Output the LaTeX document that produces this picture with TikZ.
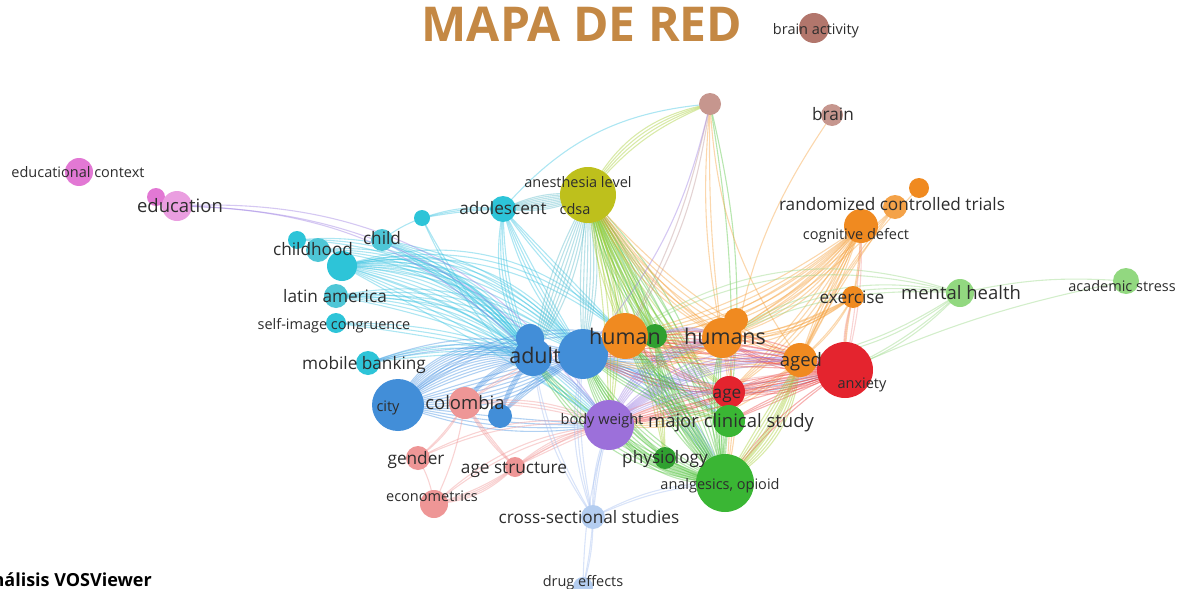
\documentclass[tikz,border=0pt]{standalone}
\usepackage{fontspec}
\setmainfont{Open Sans}
\pgfdeclarelayer{edgelayer}
\pgfsetlayers{edgelayer,main}
\definecolor{cPink}{RGB}{226,120,212}
\definecolor{cPinkL}{RGB}{234,158,224}
\definecolor{cCyan}{RGB}{45,196,216}
\definecolor{cCyanL}{RGB}{78,198,214}
\definecolor{cBlue}{RGB}{66,142,216}
\definecolor{cSalmon}{RGB}{238,150,150}
\definecolor{cPurple}{RGB}{156,112,218}
\definecolor{cLBlue}{RGB}{180,205,240}
\definecolor{cYellow}{RGB}{190,192,28}
\definecolor{cBrown}{RGB}{178,118,108}
\definecolor{cBrownL}{RGB}{198,150,142}
\definecolor{cOrange}{RGB}{240,138,32}
\definecolor{cOrangeL}{RGB}{244,162,72}
\definecolor{cGreen}{RGB}{58,182,52}
\definecolor{cGreenD}{RGB}{48,160,48}
\definecolor{cLGreen}{RGB}{146,216,128}
\definecolor{cRed}{RGB}{228,36,46}
\definecolor{cTitle}{RGB}{196,136,68}
\definecolor{cText}{RGB}{45,45,45}
\definecolor{eCyan}{RGB}{60,195,225}
\definecolor{eBlue}{RGB}{70,145,225}
\definecolor{eTeal}{RGB}{90,185,200}
\definecolor{eYG}{RGB}{165,205,50}
\definecolor{eGreen}{RGB}{85,195,65}
\definecolor{eOrange}{RGB}{245,160,60}
\definecolor{eRed}{RGB}{235,70,70}
\definecolor{ePurple}{RGB}{155,125,225}
\definecolor{eSalmon}{RGB}{240,150,150}
\definecolor{eLBlue}{RGB}{165,190,240}
\definecolor{eBrown}{RGB}{190,150,150}
\definecolor{eLGreen}{RGB}{150,215,130}
\tikzset{
  kw/.style={circle, inner sep=0pt, draw=none, minimum size=#1},
  edge/.style={line width=1.1pt, draw opacity=0.42},
  lbl/.style={text=cText, inner sep=0pt, text height=0.72em, text depth=0.2em, yshift=-3.5pt},
  lblS/.style={lbl, font=\fontsize{14.5}{15}\selectfont},
  lblM/.style={lbl, font=\fontsize{17.2}{18}\selectfont},
  lblL/.style={lbl, font=\fontsize{18.5}{19}\selectfont},
  lblX/.style={lbl, font=\fontsize{21.5}{22}\selectfont},
}
\begin{document}
\begin{tikzpicture}[x=1pt,y=-1pt]
\useasboundingbox (0,0) rectangle (1184,589);
\clip (0,0) rectangle (1184,589);
% ---------- keyword circles ----------
\node[kw=28pt, fill=cPink]   (edctx)  at (79,172) {};
\node[kw=18pt, fill=cPink]   (edsm)   at (156,197) {};
\node[kw=30pt, fill=cPinkL]  (educ)   at (177,206) {};
\node[kw=16pt, fill=cCyan]   (cysm)   at (422,218) {};
\node[kw=26pt, fill=cCyan]   (adol)   at (503,209) {};
\node[kw=22pt, fill=cCyanL]  (child)  at (382,240) {};
\node[kw=18pt, fill=cCyan]   (chsm)   at (297,240) {};
\node[kw=24pt, fill=cCyanL]  (chhood) at (318,250) {};
\node[kw=30pt, fill=cCyan]   (chbig)  at (342,266) {};
\node[kw=24pt, fill=cCyanL]  (latam)  at (336,296) {};
\node[kw=20pt, fill=cCyan]   (selfimg) at (336,323) {};
\node[kw=24pt, fill=cCyan]   (mobile) at (368,363) {};
\node[kw=28pt, fill=cBlue]   (adultb) at (530,338) {};
\node[kw=38pt, fill=cBlue]   (adult)  at (533,357) {};
\node[kw=50pt, fill=cBlue]   (bigblue) at (583,354) {};
\node[kw=52pt, fill=cBlue]   (city)   at (398,405) {};
\node[kw=24pt, fill=cBlue]   (bluesm) at (500,416) {};
\node[kw=32pt, fill=cSalmon] (colomb) at (465,403) {};
\node[kw=24pt, fill=cSalmon] (gender) at (418,458) {};
\node[kw=20pt, fill=cSalmon] (agestr) at (515,467) {};
\node[kw=28pt, fill=cSalmon] (econ)   at (434,504) {};
\node[kw=50pt, fill=cPurple] (bodyw)  at (609,425) {};
\node[kw=24pt, fill=cLBlue]  (cross)  at (593,517) {};
\node[kw=20pt, fill=cLBlue]  (drug)   at (583,587) {};
\node[kw=56pt, fill=cYellow] (cdsa)   at (588,195) {};
\node[kw=22pt, fill=cBrownL] (brownsm) at (710,104) {};
\node[kw=30pt, fill=cBrown]  (brainact) at (814,28) {};
\node[kw=22pt, fill=cBrownL] (brain)  at (832,115) {};
\node[kw=20pt, fill=cOrange] (orsm)   at (919,188) {};
\node[kw=24pt, fill=cOrangeL] (rct)   at (895,207) {};
\node[kw=34pt, fill=cOrange] (cogdef) at (861,226) {};
\node[kw=22pt, fill=cOrange] (exer)   at (853,297) {};
\node[kw=24pt, fill=cOrange] (humansb) at (736,320) {};
\node[kw=40pt, fill=cOrange] (humans) at (722,338) {};
\node[kw=24pt, fill=cGreenD] (greensm) at (655,336) {};
\node[kw=46pt, fill=cOrange] (human)  at (625,336) {};
\node[kw=34pt, fill=cOrange] (aged)   at (800,360) {};
\node[kw=28pt, fill=cLGreen] (mental) at (960,293) {};
\node[kw=26pt, fill=cLGreen] (acad)   at (1126,281) {};
\node[kw=56pt, fill=cRed]    (anxiety) at (845,370) {};
\node[kw=32pt, fill=cRed]    (age)    at (729,392) {};
\node[kw=32pt, fill=cGreen]  (mcs)    at (729,421) {};
\node[kw=22pt, fill=cGreenD] (physio) at (665,458) {};
\node[kw=58pt, fill=cGreen]  (analg)  at (725,483) {};
% ---------- connectors ----------
\begin{pgfonlayer}{edgelayer}
\foreach \pa/\pb/\col/\bd/\num in {
 chbig/adult/eCyan/10/9, chbig/bigblue/eCyan/16/6, chbig/human/eCyan/24/3, chbig/bodyw/eCyan/2/4,
 chhood/adult/eCyan/20/4, chsm/adult/eCyan/24/3, child/adult/eCyan/6/4, child/bigblue/eCyan/12/3,
 latam/adult/eCyan/6/5, latam/bigblue/eCyan/12/4, selfimg/adult/eCyan/2/3, mobile/adult/eCyan/6/4,
 adol/cdsa/eTeal/-16/9, adol/bigblue/eCyan/-14/4, adol/adult/eCyan/-22/4, adol/human/eCyan/-8/3,
 brownsm/adol/eCyan/-22/1, cysm/adol/eCyan/4/3, cysm/child/eCyan/-8/1, cysm/bodyw/eCyan/-18/2,
 educ/bodyw/ePurple/26/2, educ/adult/ePurple/22/1,
 city/adult/eBlue/6/12, city/bigblue/eBlue/-24/8, city/bodyw/eBlue/-14/4, city/human/eBlue/20/3,
 mobile/bigblue/eBlue/10/3, bluesm/adult/eBlue/6/4, bluesm/bigblue/eBlue/4/4,
 adult/cdsa/eTeal/-14/7, bigblue/cdsa/eTeal/-14/6, bigblue/humans/eBlue/-22/3, bigblue/anxiety/eBlue/-24/3,
 bigblue/analg/eBlue/14/5, bigblue/mcs/eBlue/8/3, adult/bodyw/eBlue/8/3,
 cdsa/human/eYG/-10/6, cdsa/greensm/eGreen/-16/8, cdsa/analg/eGreen/-14/9, cdsa/mcs/eGreen/-12/5,
 cdsa/age/eYG/-20/4, cdsa/humans/eOrange/-18/4, cdsa/aged/eOrange/-22/4, cdsa/brownsm/eYG/14/4,
 cdsa/bodyw/eYG/4/4, cdsa/physio/eYG/4/4,
 brownsm/human/eBrown/8/2, brownsm/humans/eOrange/-8/2, brownsm/mcs/eGreen/6/2, brownsm/bigblue/ePurple/14/1,
 brownsm/aged/eOrange/-16/1, brain/age/eOrange/-14/1,
 cogdef/human/eOrange/10/5, cogdef/humans/eOrange/8/5, cogdef/aged/eOrange/-6/4, cogdef/age/eOrange/6/4,
 cogdef/exer/eOrange/4/2, cogdef/bigblue/eOrange/16/2, rct/aged/eOrange/-8/2, rct/humans/eOrange/6/2,
 orsm/aged/eOrange/-10/1, exer/humans/eOrange/12/3, exer/aged/eOrange/8/2, exer/human/eOrange/18/3,
 exer/anxiety/eOrange/-10/2, humans/human/eOrange/20/2, humans/bigblue/eOrange/24/3, human/aged/eOrange/-20/4,
 humans/analg/eOrange/8/3, aged/analg/eYG/12/5, aged/bodyw/eOrange/18/3,
 mental/humans/eLGreen/-22/3, mental/human/eLGreen/-26/2, mental/acad/eLGreen/8/1, acad/anxiety/eLGreen/-6/1,
 mental/anxiety/eLGreen/8/2, mental/aged/eLGreen/10/2,
 anxiety/age/eRed/-14/9, anxiety/human/eRed/-16/6, anxiety/bigblue/eRed/-14/5, anxiety/bodyw/eRed/-10/5,
 anxiety/humans/eRed/14/3, anxiety/mcs/eRed/-6/3, anxiety/analg/eRed/-12/2, age/human/eRed/8/3,
 age/bigblue/eRed/8/3, age/bodyw/eRed/4/3, anxiety/exer/eSalmon/8/2, anxiety/cogdef/eSalmon/-8/2,
 bodyw/humans/ePurple/22/5, bodyw/anxiety/ePurple/22/5, bodyw/age/ePurple/12/3, bodyw/aged/ePurple/18/3,
 colomb/agestr/eSalmon/-10/3, colomb/gender/eSalmon/8/2, colomb/bodyw/eSalmon/8/3, colomb/econ/eSalmon/8/1,
 gender/econ/eSalmon/10/1, agestr/econ/eSalmon/8/4, agestr/bodyw/eSalmon/8/3, gender/bodyw/eSalmon/14/2,
 econ/bodyw/eSalmon/14/2, agestr/anxiety/eSalmon/10/2, colomb/human/eSalmon/10/2, colomb/adult/eBlue/14/4,
 cross/bigblue/eLBlue/8/3, cross/bodyw/eLBlue/4/3, cross/drug/eLBlue/4/2, cross/adult/eLBlue/10/2,
 cross/analg/eLBlue/10/2, drug/bodyw/eLBlue/8/1,
 analg/human/eGreen/-10/7, analg/greensm/eGreen/4/6, analg/humans/eGreen/4/4, analg/mcs/eGreen/4/3,
 analg/bigblue/eGreen/14/8, analg/adult/eGreen/14/5, analg/bodyw/eGreen/14/5, analg/age/eGreen/8/3,
 analg/aged/eYG/-14/5, analg/physio/eGreen/8/2, mcs/human/eGreen/8/3, mcs/bigblue/eGreen/8/3,
 greensm/humans/ePurple/20/3, physio/bigblue/eGreen/8/3
}{
  \foreach \i in {1,...,\num}{
    \pgfmathsetmacro{\bb}{\bd+4*(\i-1)}
    \draw[edge, color=\col] (\pa.center) to[bend left=\bb] (\pb.center);
  }
}
\end{pgfonlayer}
% ---------- labels ----------
\node[lblS] (Ledctx)  at (78,171)  {educational context};
\node[lblL] (Leduc)   at (180,206) {education};
\node[lblM] (Ladol)   at (503,208) {adolescent};
\node[lblM] (Lchild)  at (382,238) {child};
\node[lblM] (Lchhood) at (313,249) {childhood};
\node[lblM] (Llatam)  at (335,296) {latin america};
\node[lblS] (Lself)   at (334,323) {self-image congruence};
\node[lblM] (Lmobile) at (364,363) {mobile banking};
\node[lblX] (Ladult)  at (535,357) {adult};
\node[lblX] (Lhuman)  at (625,338) {human};
\node[lblX] (Lhumans) at (725,338) {humans};
\node[lblS] (Lcity)   at (388,405) {city};
\node[lblL] (Lcolomb) at (465,403) {colombia};
\node[lblM] (Lgender) at (416,458) {gender};
\node[lblM] (Lagestr) at (514,467) {age structure};
\node[lblS] (Lecon)   at (432,495) {econometrics};
\node[lblS] (Lbodyw)  at (602,418) {body weight};
\node[lblM] (Lcross)  at (589,517) {cross-sectional studies};
\node[lblS] (Ldrug)   at (583,580) {drug effects};
\node[lblS] (Lanest)  at (578,181) {anesthesia level};
\node[lblS] (Lcdsa)   at (575,208) {cdsa};
\node[lblS] (Lbrainact) at (816,28) {brain activity};
\node[lblM] (Lbrain)  at (833,114) {brain};
\node[lblM] (Lrct)    at (892,204) {randomized controlled trials};
\node[lblS] (Lcogdef) at (856,233) {cognitive defect};
\node[lblM] (Lexer)   at (852,297) {exercise};
\node[lblL] (Lmental) at (961,293) {mental health};
\node[lblS] (Lacad)   at (1122,285) {academic stress};
\node[lblL] (Laged)   at (801,360) {aged};
\node[lblS] (Lanxiety) at (862,382) {anxiety};
\node[lblM] (Lage)    at (727,392) {age};
\node[lblL] (Lmcs)    at (731,421) {major clinical study};
\node[lblM] (Lphysio) at (665,457) {physiology};
\node[lblS] (Lanalg)  at (720,483) {analgesics, opioid};
% ---------- title and caption ----------
\node[text=cTitle, inner sep=0pt, font=\fontsize{48}{50}\selectfont\bfseries] (title) at (582,24) {MAPA DE RED};
\node[text=black, inner sep=0pt, anchor=base east, font=\fontsize{18}{20}\selectfont\bfseries] (credit) at (152,586) {Análisis VOSViewer};
\end{tikzpicture}
\end{document}
